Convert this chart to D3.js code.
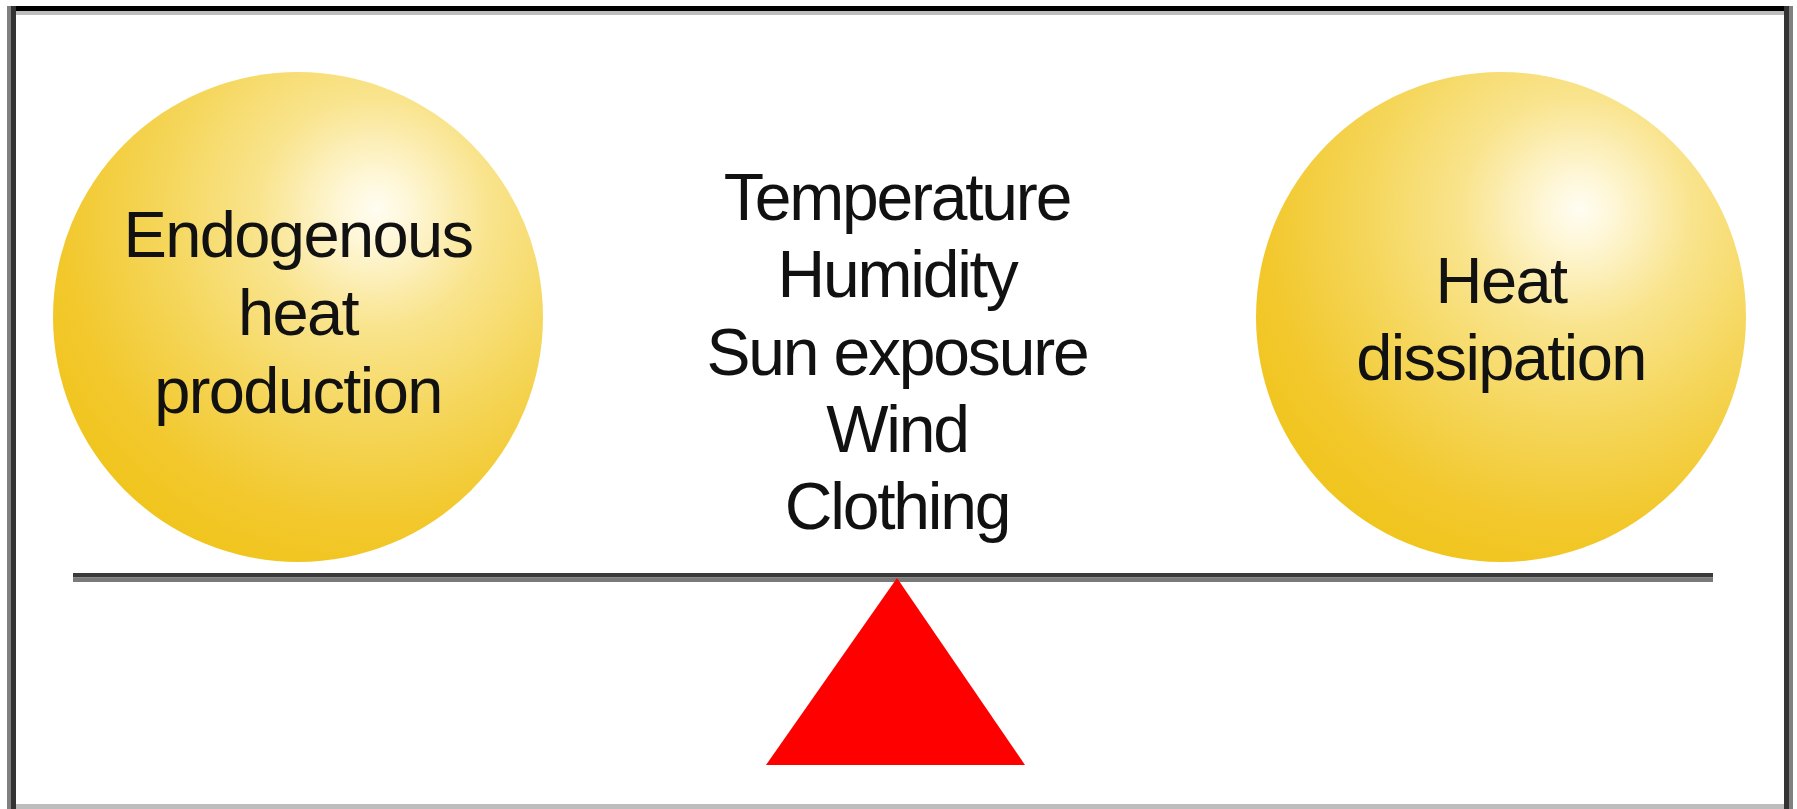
<!DOCTYPE html>
<html>
<head>
<meta charset="utf-8">
<script src="https://cdn.jsdelivr.net/npm/d3@7"></script>
<style>
  html, body { margin: 0; padding: 0; background: #ffffff; }
  svg { display: block; }
</style>
</head>
<body>
<div id="chart"></div>
<script>
// ---- data ----
const balls = ["Endogenous heat production", "Heat dissipation"];
const ballLines = [["Endogenous", "heat", "production"], ["Heat", "dissipation"]];
const factors = ["Temperature", "Humidity", "Sun exposure", "Wind", "Clothing"];

// ---- layout ----
const W = 1797, H = 809;
const svg = d3.select("#chart").append("svg")
  .attr("width", W).attr("height", H)
  .attr("viewBox", `0 0 ${W} ${H}`);

const font = "'Liberation Sans', Arial, Helvetica, sans-serif";

// scales
const xBall = d3.scalePoint().domain(balls).range([298, 1501]);
const yFactor = d3.scalePoint().domain(factors).range([220, 529]);
const centerX = 897;
const ballCY = 317, ballR = 245;
const beamY = 573;

// gradient
const defs = svg.append("defs");
const grad = defs.append("radialGradient")
  .attr("id", "ballGrad")
  .attr("cx", 0.64).attr("cy", 0.3)
  .attr("fx", 0.66).attr("fy", 0.28)
  .attr("r", 0.78);
[
  [0.00, "#fffdf2"],
  [0.10, "#fef6d4"],
  [0.30, "#f9e48e"],
  [0.55, "#f5d65a"],
  [0.80, "#f2c82d"],
  [1.00, "#f0c419"]
].forEach(([o, c]) => grad.append("stop").attr("offset", o).attr("stop-color", c));

// frame
svg.append("rect").attr("x", 0).attr("y", 0).attr("width", W).attr("height", H).attr("fill", "#ffffff");
svg.append("rect").attr("x", 7).attr("y", 6).attr("width", 1784 - 7).attr("height", 5).attr("fill", "#000000");
svg.append("rect").attr("x", 14).attr("y", 11).attr("width", 1784 - 14).attr("height", 4).attr("fill", "#bdbdbd");
svg.append("rect").attr("x", 7).attr("y", 6).attr("width", 4).attr("height", 803).attr("fill", "#808080");
svg.append("rect").attr("x", 11).attr("y", 6).attr("width", 5).attr("height", 803).attr("fill", "#333333");
svg.append("rect").attr("x", 1784).attr("y", 6).attr("width", 5).attr("height", 803).attr("fill", "#333333");
svg.append("rect").attr("x", 1789).attr("y", 6).attr("width", 4).attr("height", 803).attr("fill", "#808080");
svg.append("rect").attr("x", 16).attr("y", 804).attr("width", 1784 - 16).attr("height", 5).attr("fill", "#bdbdbd");

// balls
const g = svg.selectAll("g.ball").data(balls).enter().append("g").attr("class", "ball");
g.append("circle")
  .attr("cx", d => xBall(d)).attr("cy", ballCY).attr("r", ballR)
  .attr("fill", "url(#ballGrad)");

const ballBaselines = [[257, 335, 413], [303, 380]];
g.each(function(d, i) {
  d3.select(this).selectAll("text").data(ballLines[i]).enter().append("text")
    .attr("x", xBall(d))
    .attr("y", (t, j) => ballBaselines[i][j])
    .attr("text-anchor", "middle")
    .attr("font-family", font)
    .attr("font-size", 65)
    .attr("letter-spacing", -1.6)
    .attr("fill", "#111111")
    .text(t => t);
});

// factors
svg.selectAll("text.factor").data(factors).enter().append("text")
  .attr("class", "factor")
  .attr("x", centerX)
  .attr("y", d => yFactor(d))
  .attr("text-anchor", "middle")
  .attr("font-family", font)
  .attr("font-size", 66)
  .attr("letter-spacing", -2.2)
  .attr("fill", "#111111")
  .text(d => d);

// beam
svg.append("rect").attr("x", 73).attr("y", beamY).attr("width", 1713 - 73).attr("height", 4.5).attr("fill", "#3a3a3a");
svg.append("rect").attr("x", 73).attr("y", beamY + 4.5).attr("width", 1713 - 73).attr("height", 4.5).attr("fill", "#7a7a7a");

// fulcrum
svg.append("path")
  .attr("d", d3.line()([[centerX, 578], [1025, 765], [766, 765]]) + "Z")
  .attr("fill", "#ff0000");
</script>
</body>
</html>
